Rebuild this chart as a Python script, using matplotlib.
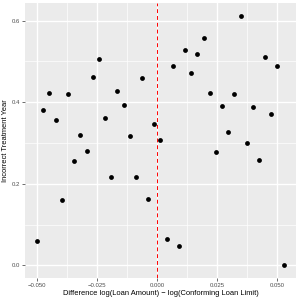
import matplotlib
matplotlib.use("Agg")
import matplotlib.pyplot as plt
from matplotlib.ticker import FixedLocator, FuncFormatter

# ================= DATA =================
loan_diff = [-0.0500, -0.0474, -0.0449, -0.0423, -0.0397, -0.0372, -0.0346, -0.0320,
             -0.0294, -0.0269, -0.0243, -0.0217, -0.0192, -0.0166, -0.0140, -0.0115,
             -0.0089, -0.0063, -0.0037, -0.0012, 0.0014, 0.0040, 0.0065, 0.0091,
             0.0117, 0.0143, 0.0168, 0.0194, 0.0220, 0.0245, 0.0271, 0.0297,
             0.0322, 0.0348, 0.0374, 0.0400, 0.0425, 0.0451, 0.0477, 0.0502, 0.0528]
incorrect_year = [0.060, 0.381, 0.423, 0.357, 0.160, 0.420, 0.256, 0.320,
                  0.280, 0.462, 0.506, 0.362, 0.217, 0.428, 0.392, 0.316,
                  0.217, 0.460, 0.163, 0.346, 0.307, 0.064, 0.490, 0.047,
                  0.528, 0.471, 0.518, 0.557, 0.422, 0.279, 0.391, 0.326,
                  0.419, 0.612, 0.300, 0.389, 0.258, 0.511, 0.372, 0.489, 0.000]

x_breaks = [-0.050, -0.025, 0.000, 0.025, 0.050]
x_minor = [-0.0375, -0.0125, 0.0125, 0.0375]
y_breaks = [0.0, 0.2, 0.4, 0.6]
y_minor = [0.1, 0.3, 0.5]

plt.rcParams["font.family"] = ["Liberation Sans", "DejaVu Sans"]

# ================= PLOT =================
fig = plt.figure(figsize=(3, 3), dpi=100)
ax = fig.add_axes([0.0833, 0.074, 0.903, 0.915])
ax.set_facecolor("#EBEBEB")

for v in x_minor:
    ax.axvline(v, color="white", lw=0.5, zorder=0)
for v in y_minor:
    ax.axhline(v, color="white", lw=0.5, zorder=0)
for v in x_breaks:
    ax.axvline(v, color="white", lw=1.0, zorder=0)
for v in y_breaks:
    ax.axhline(v, color="white", lw=1.0, zorder=0)

ax.scatter(loan_diff, incorrect_year, s=12, color="black", zorder=3, linewidths=0)
ax.axvline(0, color="#FF0000", lw=0.7, linestyle=(0, (4, 3)), zorder=2)

ax.set_xlim(-0.0551, 0.0579)
ax.set_ylim(-0.0306, 0.6426)
ax.xaxis.set_major_locator(FixedLocator(x_breaks))
ax.yaxis.set_major_locator(FixedLocator(y_breaks))
ax.xaxis.set_major_formatter(FuncFormatter(lambda v, p: f"{v:.3f}".replace("-", "\u2212")))
ax.yaxis.set_major_formatter(FuncFormatter(lambda v, p: f"{v:.1f}"))

for s in ax.spines.values():
    s.set_visible(False)
ax.tick_params(axis="both", length=2, width=0.5, color="#333333",
               labelsize=4.3, labelcolor="#4D4D4D", pad=1.5)

ax.set_xlabel("Difference log(Loan Amount) \u2212 log(Conforming Loan Limit)",
              fontsize=5.4, labelpad=2)
ax.set_ylabel("Incorrect Treatment Year", fontsize=5.4, labelpad=2)

fig.savefig("out.png", dpi=100)
